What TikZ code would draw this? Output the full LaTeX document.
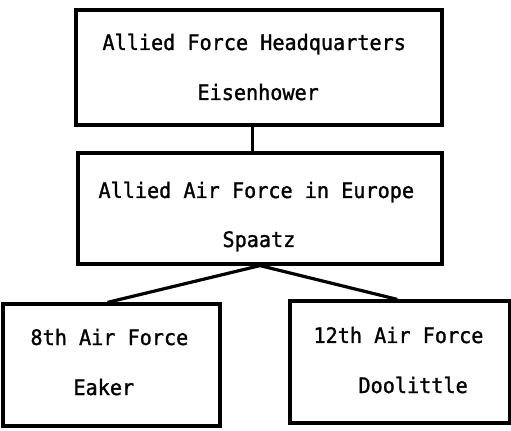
\documentclass[tikz,border=0pt]{standalone}
\usepackage{fontspec}
\newfontfamily\orgfont[FakeStretch=0.945, FakeBold=1.3]{DejaVu Sans Mono}

\tikzset{every picture/.style={line width=0.75pt}}
\tikzset{
  orgbox/.style={draw, line width=2.4pt, inner sep=0pt},
  orgtext/.style={anchor=base west, inner sep=0pt, font=\orgfont\fontsize{16}{19}\selectfont},
  orgline/.style={line width=2.4pt}
}

\begin{document}
\begin{tikzpicture}[x=0.75pt,y=0.75pt,yscale=-1,xscale=1]
\useasboundingbox (0,0) rectangle (511,431);

%Rectangle: headquarters
\node [orgbox, minimum width=274.5pt, minimum height=86.25pt] (hq) at (259,67.5) {};
%Rectangle: air force in europe
\node [orgbox, minimum width=273pt, minimum height=83.25pt] (aafe) at (260,208.5) {};
%Rectangle: 8th
\node [orgbox, minimum width=162.75pt, minimum height=91.5pt] (eighth) at (111.5,365) {};
%Rectangle: 12th
\node [orgbox, minimum width=165pt, minimum height=91.5pt] (twelfth) at (400,362) {};

%Straight Lines
\draw [orgline] ([xshift=-5pt]hq.south) -- ([xshift=-5pt]hq.south |- aafe.north);
\draw [orgline] (aafe.south) -- ([xshift=-3pt]eighth.north);
\draw [orgline] (aafe.south) -- ([xshift=-2pt]twelfth.north);

% Text Node
\node [orgtext] (hqtitle) at (102,50) {Allied Force Headquarters};
% Text Node
\node [orgtext] (hqname) at (197,100) {Eisenhower};
% Text Node
\node [orgtext] (aafetitle) at (98,198) {Allied Air Force in Europe};
% Text Node
\node [orgtext] (aafename) at (222,247) {Spaatz};
% Text Node
\node [orgtext] (eighthtitle) at (30,345) {8th Air Force};
% Text Node
\node [orgtext] (eighthname) at (73,395) {Eaker};
% Text Node
\node [orgtext] (twelfthtitle) at (313,343) {12th Air Force};
% Text Node
\node [orgtext] (twelfthname) at (358,393) {Doolittle};

\end{tikzpicture}
\end{document}
